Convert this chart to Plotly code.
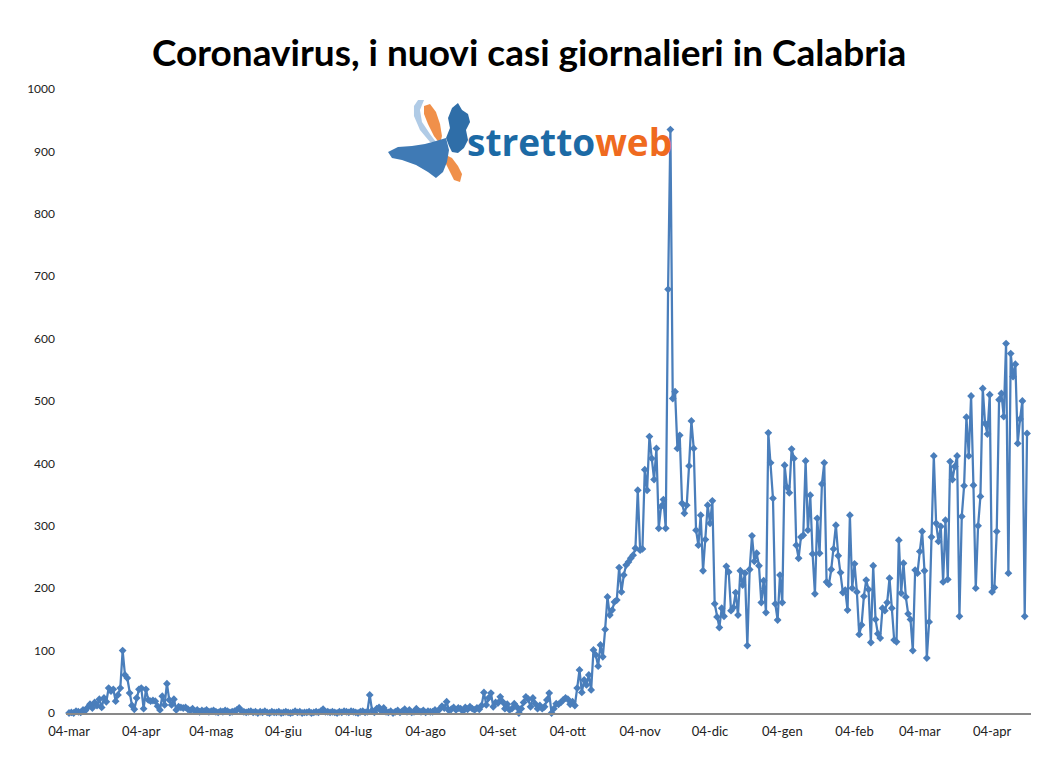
import pandas as pd
import plotly.graph_objects as go

start_date = "2020-03-04"

mar20 = [0,1,0,3,2,1,5,4,9,14,8,17,12,22,9,24,18,40,35,38,19,29,40,100,61,56,32,12]
apr20 = [6,24,38,40,7,38,21,19,20,19,11,5,27,13,47,21,13,22,5,10,9,8,9,6,4,7,3,5,2,4]
may20 = [3,5,2,3,4,2,1,3,2,4,3,1,2,3,5,8,3,2,1,2,3,1,2,0,2,1,3,1,0,2,1]
jun20 = [1,2,0,1,2,1,0,1,3,1,2,0,1,1,2,0,1,2,1,3,6,2,2,1,2,1,0,2,1,3]
jul20 = [2,1,3,2,1,0,2,3,1,2,29,4,1,7,9,3,8,2,1,3,0,2,4,1,3,6,2,5,1,2,7]
aug20 = [3,2,4,1,3,2,2,5,3,6,11,8,18,4,6,9,5,8,7,3,9,6,10,7,5,8,6,12,33,13,24]
sep20 = [32,10,17,16,26,18,7,14,5,7,15,10,0,7,17,26,22,10,24,15,7,12,7,10,21,32,0,7,15,14]
oct20 = [17,21,24,22,14,18,12,40,69,33,53,45,61,37,101,93,75,109,90,134,186,157,165,178,181,233,194,221,237,242,248]
nov20 = [253,264,357,261,263,390,357,443,408,374,424,296,331,342,296,679,935,504,515,424,445,336,320,333,396,468,424,293,269,317]
dec20 = [228,278,333,304,340,175,154,137,168,155,235,226,164,169,193,157,228,205,224,108,230,284,243,256,236,177,212,161,449,401,344]
jan21 = [175,149,221,177,397,362,353,423,408,269,248,282,285,404,293,349,255,191,312,256,367,401,210,206,230,263,301,252,225,193,197]
feb21 = [165,317,200,239,194,126,141,187,213,198,113,236,150,127,120,168,164,177,216,168,117,114,277,192,240,186,159,150]
mar21 = [100,229,224,259,291,228,88,146,282,412,304,275,299,210,309,214,403,374,395,412,155,315,364,474,412,508,365,200,300,347,520]
apr21 = [464,447,510,194,201,291,502,512,475,592,224,576,539,559,432,471,500,155,448]

new_cases = mar20 + apr20 + may20 + jun20 + jul20 + aug20 + sep20 + oct20 + nov20 + dec20 + jan21 + feb21 + mar21 + apr21
dates = pd.date_range(start_date, periods=len(new_cases), freq="D")

tick_labels = ["04-mar", "04-apr", "04-mag", "04-giu", "04-lug", "04-ago", "04-set",
               "04-ott", "04-nov", "04-dic", "04-gen", "04-feb", "04-mar", "04-apr"]
tick_dates = [pd.Timestamp(start_date) + pd.DateOffset(months=i) for i in range(len(tick_labels))]

y_ticks = list(range(0, 1001, 100))

title_text = "Coronavirus, i nuovi casi giornalieri in Calabria"

# page body has an 8px margin: figure coordinates are offset by OFF
OFF = 8
W, H = 1061 - OFF, 768 - OFF
# target plot area in window pixels: x 66..1031, y 89..713
ML, MR, MT, MB = 66 - OFF, 1061 - 1031, 89 - OFF, 768 - 713
PW, PH = W - ML - MR, H - MT - MB

def px(x, y):
    """window pixel -> paper coords"""
    return (x - OFF - ML) / PW, (H - MB - (y - OFF)) / PH

def path(pts):
    s = ""
    for i, (x, y) in enumerate(pts):
        u, v = px(x, y)
        s += ("M" if i == 0 else "L") + f"{u:.4f},{v:.4f} "
    return s + "Z"

BLUE = "#4a7ebb"

fig = go.Figure()
fig.add_trace(go.Scatter(
    x=dates, y=new_cases, mode="lines+markers",
    line=dict(color=BLUE, width=2.25),
    marker=dict(symbol="diamond", size=6, color=BLUE),
    cliponaxis=False, hoverinfo="x+y", showlegend=False,
))

# logo icon (decorative shapes)
sicily = [(388,152),(398,147),(412,146),(425,144),(436,141),(446,138),(449,150),(447,162),
          (443,172),(436,178),(428,172),(416,165),(402,160),(392,158)]
calabria = [(446,138),(450,128),(448,118),(452,108),(458,103),(462,110),(468,114),(470,122),
            (466,130),(468,140),(464,148),(458,153),(452,152),(449,146)]
orange_top = [(424,106),(430,104),(436,112),(440,124),(442,136),(440,144),(434,136),(428,124),(424,114)]
orange_bot = [(446,155),(452,158),(458,166),(462,174),(460,182),(454,180),(450,172),(446,164)]
lightblue = [(418,100),(424,100),(420,110),(422,122),(430,134),(436,142),(430,142),(420,130),(414,116),(414,106)]

shapes = []
for pts, col in [(lightblue, "rgba(80,140,200,0.45)"), (orange_top, "#f0904a"),
                 (orange_bot, "#f0904a"), (sicily, "#3f7ab5"), (calabria, "#2f6ea8")]:
    shapes.append(dict(type="path", xref="paper", yref="paper", path=path(pts),
                       fillcolor=col, line=dict(width=0), layer="below"))

lx, ly = px(569, 141)
tx, ty = px(529, 51)

fig.update_layout(
    width=W, height=H,
    margin=dict(l=ML, r=MR, t=MT, b=MB, autoexpand=False),
    paper_bgcolor="white", plot_bgcolor="white",
    annotations=[
        dict(xref="paper", yref="paper", x=tx, y=ty, xanchor="center", yanchor="middle",
             text=f"<b>{title_text}</b>", showarrow=False,
             font=dict(family="Lato, Open Sans, sans-serif", size=37, color="black")),
        dict(xref="paper", yref="paper", x=lx, y=ly, xanchor="center", yanchor="middle",
             text="<b><span style='color:#1c6aa5'>stretto</span><span style='color:#ef6a1f'>web</span></b>",
             showarrow=False, font=dict(family="Open Sans, sans-serif", size=37)),
    ],
    xaxis=dict(
        type="date",
        range=[pd.Timestamp(start_date) - pd.Timedelta(days=1.3),
               pd.Timestamp(start_date) + pd.Timedelta(days=412.7)],
        tickvals=tick_dates, ticktext=tick_labels,
        showgrid=False, zeroline=False, showline=True, linecolor="#898989", linewidth=1.5,
        ticks="", ticklabelstandoff=6,
        tickfont=dict(family="Lato, sans-serif", size=13, color="#222222"),
    ),
    yaxis=dict(
        range=[0, 1000], tickvals=y_ticks, ticktext=[str(v) for v in y_ticks],
        showgrid=False, zeroline=False, showline=False, ticks="", ticklabelstandoff=10,
        tickfont=dict(family="Lato, sans-serif", size=12, color="#222222"),
    ),
    shapes=shapes,
)

fig.write_html("out.html")
